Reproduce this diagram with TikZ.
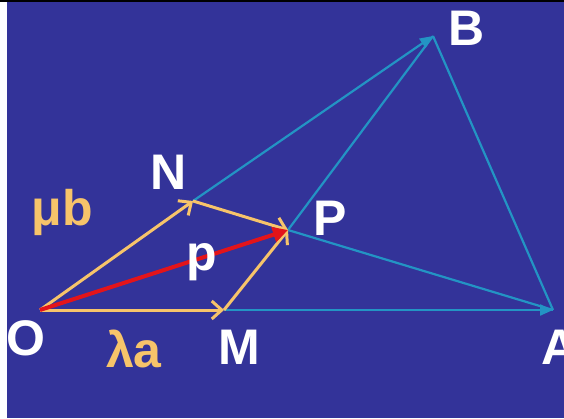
\documentclass[tikz,border=0pt]{standalone}
\usepackage{fontspec}
\setmainfont{Liberation Sans}
\usetikzlibrary{arrows.meta}
\definecolor{bgblue}{HTML}{333399}
\definecolor{vecyel}{HTML}{F7C46A}
\definecolor{vecred}{HTML}{E3141A}
\definecolor{teal}{HTML}{2394C4}
\tikzset{
  x=1pt,y=1pt,
  lbl/.style={inner sep=0pt,font=\fontsize{50}{50}\selectfont\bfseries},
  wlbl/.style={lbl,text=white},
  ylbl/.style={lbl,text=vecyel},
  yvec/.style={draw=vecyel,line width=3pt,-{Straight Barb[length=10pt,width=18pt,line width=3pt]}},
  rvec/.style={draw=vecred,line width=4pt,-{Triangle[length=15pt,width=15pt]}},
  tline/.style={draw=teal,line width=2.2pt},
  tvec/.style={tline,-{Triangle[length=13pt,width=11pt]}}
}
\begin{document}
\begin{tikzpicture}
\useasboundingbox (0,0) rectangle (564,418);
\fill[white] (0,0) rectangle (564,418);
\fill[black] (0,416) rectangle (564,418);
\fill[bgblue] (7,0) rectangle (564,416);
\begin{scope}
\clip (7,0) rectangle (564,416);
\coordinate (O) at (40,108);
\coordinate (M) at (224,108);
\coordinate (A) at (553,108);
\coordinate (N) at (193,217);
\coordinate (P) at (288,188);
\coordinate (B) at (433,382);
% teal lines
\draw[tvec] (N) -- (B);
\draw[tline] (P) -- (B);
\draw[tline] (B) -- (A);
\draw[tline] (P) -- (A);
\draw[tvec] (M) -- (A);
% yellow vectors
\draw[yvec] (O) -- (N);
\draw[yvec] (N) -- (P);
\draw[yvec] (O) -- (M);
\draw[yvec] (M) -- (P);
% red vector
\draw[rvec] (O) -- (P);
% labels
\node[wlbl] (lB) at (467,390) {B};
\node[wlbl] (lN) at (169,246) {N};
\node[ylbl] (lmub) at (62,206) {μb};
\node[wlbl] (lP) at (330,200) {P};
\node[wlbl] (lp) at (202,156) {p};
\node[wlbl] (lO) at (26,80) {O};
\node[ylbl] (llam) at (134,69) {λa};
\node[wlbl] (lM) at (239,71) {M};
\node[wlbl] (lA) at (560,71) {A};
\end{scope}
\end{tikzpicture}
\end{document}
